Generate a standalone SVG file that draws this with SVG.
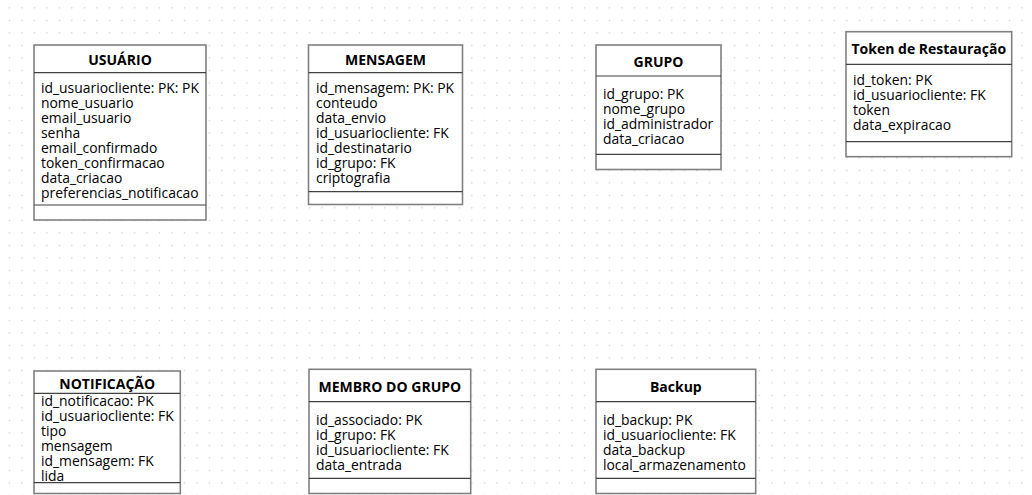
<svg xmlns="http://www.w3.org/2000/svg" width="1032" height="495" viewBox="0 0 1032 495">
<defs>
<pattern id="grid" x="8.8" y="7.3" width="12.5" height="12.5" patternUnits="userSpaceOnUse">
<rect x="0" y="0" width="1.2" height="1.2" fill="#c4c4c4"/>
</pattern>
<style>
.box{fill:#ffffff;stroke:#808080;stroke-width:1.6}
.sep{stroke:#404040;stroke-width:1.2}
.h{font-family:"Open Sans","Noto Sans",sans-serif;font-weight:bold;font-size:14px;fill:#000;text-anchor:middle;dominant-baseline:central}
.f{font-family:"Open Sans","Noto Sans",sans-serif;font-size:13.9px;fill:#000}
</style>
</defs>
<rect width="1032" height="495" fill="#ffffff"/>
<rect width="1032" height="495" fill="url(#grid)"/>

<g id="usuario">
<rect class="box" x="34" y="45" width="172" height="175"/>
<line class="sep" x1="34" y1="72.7" x2="206" y2="72.7"/>
<line class="sep" x1="34" y1="205" x2="206" y2="205"/>
<text class="h" x="120" y="59.5">USUÁRIO</text>
<text class="f" x="41" y="93">id_usuariocliente: PK: PK</text>
<text class="f" x="41" y="108">nome_usuario</text>
<text class="f" x="41" y="123">email_usuario</text>
<text class="f" x="41" y="138">senha</text>
<text class="f" x="41" y="153">email_confirmado</text>
<text class="f" x="41" y="168">token_confirmacao</text>
<text class="f" x="41" y="183">data_criacao</text>
<text class="f" x="41" y="198">preferencias_notificacao</text>
</g>

<g id="mensagem">
<rect class="box" x="308.5" y="45" width="154" height="159.5"/>
<line class="sep" x1="308.5" y1="72.7" x2="462.5" y2="72.7"/>
<line class="sep" x1="308.5" y1="191.7" x2="462.5" y2="191.7"/>
<text class="h" x="385.5" y="59.5">MENSAGEM</text>
<text class="f" x="316" y="93">id_mensagem: PK: PK</text>
<text class="f" x="316" y="108">conteudo</text>
<text class="f" x="316" y="123">data_envio</text>
<text class="f" x="316" y="138">id_usuariocliente: FK</text>
<text class="f" x="316" y="153">id_destinatario</text>
<text class="f" x="316" y="168">id_grupo: FK</text>
<text class="f" x="316" y="183">criptografia</text>
</g>

<g id="grupo">
<rect class="box" x="596" y="45" width="125" height="124.5"/>
<line class="sep" x1="596" y1="76" x2="721" y2="76"/>
<line class="sep" x1="596" y1="154.3" x2="721" y2="154.3"/>
<text class="h" x="658.5" y="61">GRUPO</text>
<text class="f" x="603" y="99">id_grupo: PK</text>
<text class="f" x="603" y="114">nome_grupo</text>
<text class="f" x="603" y="129">id_administrador</text>
<text class="f" x="603" y="144">data_criacao</text>
</g>

<g id="token">
<rect class="box" x="846" y="31.7" width="165.7" height="125"/>
<line class="sep" x1="846" y1="64.3" x2="1011.7" y2="64.3"/>
<line class="sep" x1="846" y1="141.7" x2="1011.7" y2="141.7"/>
<text class="h" x="928.8" y="48">Token de Restauração</text>
<text class="f" x="853" y="85">id_token: PK</text>
<text class="f" x="853" y="100">id_usuariocliente: FK</text>
<text class="f" x="853" y="115">token</text>
<text class="f" x="853" y="130">data_expiracao</text>
</g>

<g id="notificacao">
<rect class="box" x="34" y="371" width="146.3" height="122.5"/>
<line class="sep" x1="34" y1="393.3" x2="180.3" y2="393.3"/>
<line class="sep" x1="34" y1="482.7" x2="180.3" y2="482.7"/>
<text class="h" x="107.2" y="383">NOTIFICAÇÃO</text>
<text class="f" x="41" y="406">id_notificacao: PK</text>
<text class="f" x="41" y="421">id_usuariocliente: FK</text>
<text class="f" x="41" y="436">tipo</text>
<text class="f" x="41" y="451">mensagem</text>
<text class="f" x="41" y="466">id_mensagem: FK</text>
<text class="f" x="41" y="481">lida</text>
</g>

<g id="membro">
<rect class="box" x="309" y="369.3" width="161.7" height="124.2"/>
<line class="sep" x1="309" y1="401.7" x2="470.7" y2="401.7"/>
<line class="sep" x1="309" y1="478.3" x2="470.7" y2="478.3"/>
<text class="h" x="389.8" y="386">MEMBRO DO GRUPO</text>
<text class="f" x="316" y="425">id_associado: PK</text>
<text class="f" x="316" y="440">id_grupo: FK</text>
<text class="f" x="316" y="455">id_usuariocliente: FK</text>
<text class="f" x="316" y="470">data_entrada</text>
</g>

<g id="backup">
<rect class="box" x="596" y="369.3" width="159.7" height="124.2"/>
<line class="sep" x1="596" y1="401.7" x2="755.7" y2="401.7"/>
<line class="sep" x1="596" y1="478.3" x2="755.7" y2="478.3"/>
<text class="h" x="675.8" y="386">Backup</text>
<text class="f" x="603" y="425">id_backup: PK</text>
<text class="f" x="603" y="440">id_usuariocliente: FK</text>
<text class="f" x="603" y="455">data_backup</text>
<text class="f" x="603" y="470">local_armazenamento</text>
</g>

<g id="connectors"></g>
</svg>
